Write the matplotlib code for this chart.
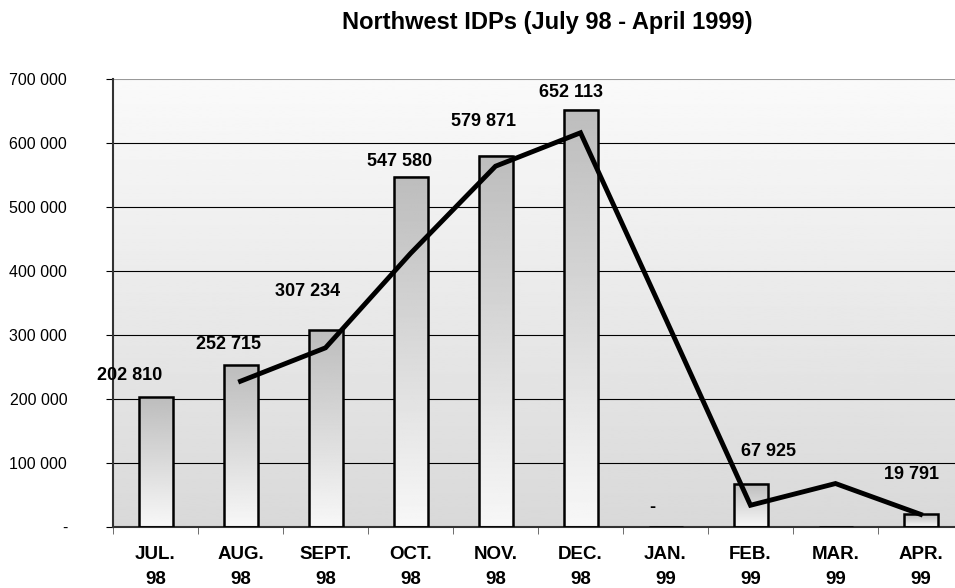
import numpy as np
import matplotlib.pyplot as plt

months = ['JUL.\n98', 'AUG.\n98', 'SEPT.\n98', 'OCT.\n98', 'NOV.\n98', 'DEC.\n98',
          'JAN.\n99', 'FEB.\n99', 'MAR.\n99', 'APR.\n99']
idps = [202810, 252715, 307234, 547580, 579871, 652113, 0, 67925, np.nan, 19791]
bar_labels = ['202 810', '252 715', '307 234', '547 580', '579 871', '652 113',
              '-', '67 925', '', '19 791']
trend = [np.nan, 227762, 279974, 427407, 563725, 615992, 326056, 33962, 67925, 19791]
yticks = [0, 100000, 200000, 300000, 400000, 500000, 600000, 700000]
ytick_labels = ['-', '100 000', '200 000', '300 000', '400 000', '500 000',
                '600 000', '700 000']
# label placement (pixels) relative to bar top centre
label_dx = [-26, -12, -18, -11, -12, -10, -13, 18, 0, -9]
label_dy = [22, 21, 39, 15, 34, 17, 20, 32, 0, 40]

fig = plt.figure(figsize=(9.55, 5.88), dpi=100)
ax = fig.add_axes([113/955, 1 - 527/588, 850/955, 448/588])
x = np.arange(len(months))
ax.set_xlim(-0.5, 9.5)
ax.set_ylim(0, 700000)

# background gradient
bg = np.linspace(0.85, 0.98, 256).reshape(-1, 1)
ax.imshow(bg, cmap='gray', vmin=0, vmax=1, origin='lower', aspect='auto',
          extent=(-0.5, 9.5, 0, 700000), zorder=0)

for yv in yticks[1:-1]:
    ax.axhline(yv, color='black', lw=0.8, zorder=1)
ax.axhline(700000, color='#999999', lw=1.5, zorder=1)

w = 0.4
grad = np.linspace(0.97, 0.74, 256).reshape(-1, 1)
for xi, v in zip(x, idps):
    if np.isnan(v) or v <= 0:
        continue
    ax.imshow(grad, cmap='gray', vmin=0, vmax=1, origin='lower', aspect='auto',
              extent=(xi - w/2, xi + w/2, 0, v), zorder=2)
ax.bar(x, np.nan_to_num(idps), width=w, facecolor='none', edgecolor='black',
       lw=1.8, zorder=3)

ax.plot(x, trend, color='black', lw=3.5, zorder=4, solid_joinstyle='miter')

for xi, v, lab, dx, dy in zip(x, idps, bar_labels, label_dx, label_dy):
    if lab == '':
        continue
    ax.annotate(lab, (xi, v), xytext=(dx, dy), textcoords='offset pixels',
                ha='center', va='center', fontsize=13, fontweight='bold',
                family='Liberation Sans', zorder=5)

ax.set_xticks(x)
ax.set_xticklabels(months, fontsize=13.5, fontweight='bold', family='Liberation Sans',
                   linespacing=1.55)
ax.set_xticks(np.arange(-0.5, 10, 1), minor=True)
ax.tick_params(axis='x', which='major', length=0, pad=14)
ax.tick_params(axis='x', which='minor', length=5, color='#555555')
ax.set_yticks(yticks)
ax.set_yticklabels(ytick_labels, fontsize=11.5, family='Liberation Sans')
ax.tick_params(axis='y', length=5, pad=28)
for lab in ax.get_yticklabels():
    lab.set_horizontalalignment('right')

for s in ['top', 'right']:
    ax.spines[s].set_visible(False)
ax.spines['left'].set_linewidth(1.5)
ax.spines['left'].set_color('#333333')
ax.spines['bottom'].set_linewidth(1.5)
ax.spines['bottom'].set_color('#333333')

fig.text(547/955, 1 - 22/588, 'Northwest IDPs (July 98 - April 1999)', ha='center',
         va='center', fontsize=17, fontweight='bold', family='Liberation Sans')

fig.savefig('out.png', dpi=100)
